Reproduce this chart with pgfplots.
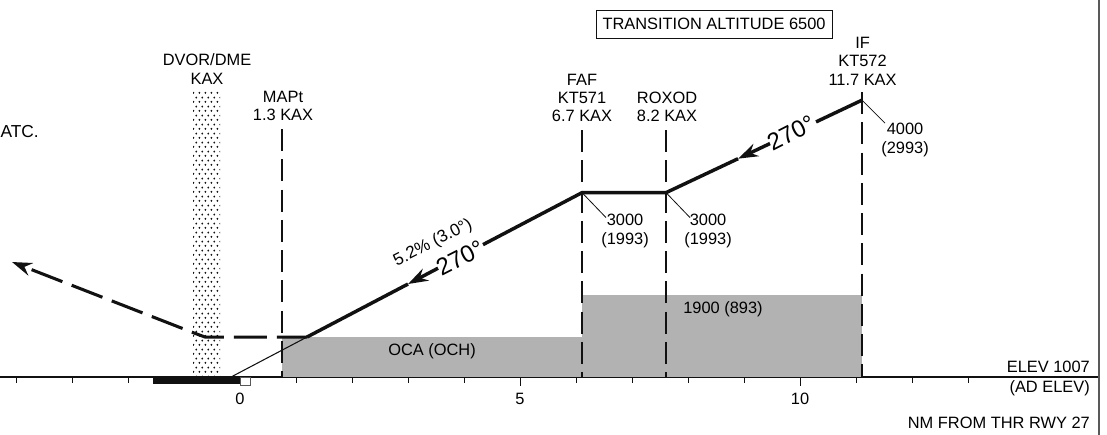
\documentclass[border=0pt]{standalone}
\usepackage{fontspec}
\setmainfont{Liberation Sans}
\usepackage{pgfplots}
\pgfplotsset{compat=1.18}
\usetikzlibrary{arrows.meta,patterns}

% 1 px of the reference = 0.75pt; x = NM from threshold, y = altitude in ft
% place text by reference pixel position
\newcommand{\T}[4][]{\node[inner sep=0pt,align=center,#1] at (axis cs:{(#2-240)/56},{1007+(377-#3)/0.0925}) {#4};}
\definecolor{ocagray}{HTML}{B2B2B2}
\definecolor{ink}{HTML}{111111}

% staggered dots of the DVOR/DME column
\pgfdeclarepatternformonly{stipple}{\pgfpointorigin}{\pgfpoint{4.65pt}{6.6pt}}{\pgfpoint{4.65pt}{6.6pt}}{
  \pgfpathcircle{\pgfpoint{1.15pt}{1.65pt}}{0.8pt}
  \pgfpathcircle{\pgfpoint{3.5pt}{4.95pt}}{0.8pt}
  \pgfusepath{fill}
}

\tikzset{
  main/.style={line width=2.6pt,ink},
  leader/.style={line width=0.6pt,ink},
  fix/.style={line width=1pt,ink,dash pattern=on 16.5pt off 6.2pt},
  head/.style={-{Stealth[length=15pt,width=10pt,inset=5pt]}}
}

\begin{document}
\begin{tikzpicture}[font={\fontsize{12.3}{13.8}\selectfont}]
\useasboundingbox (0,0) rectangle (830.25pt,326.25pt);
\begin{axis}[
    at={(0pt,43.5pt)}, anchor=south west,
    scale only axis, width=823.9pt, height=282.75pt,
    xmin=-4.2857, xmax=15.33, ymin=1007, ymax=5082.7,
    clip=false,
    axis x line=bottom, axis y line=none,
    x axis line style={-,line width=0.8pt,ink},
    xtick={0,5,10}, minor xtick={-4,-3,...,13},
    tick align=outside,
    major tick length=6.75pt, minor tick length=4.5pt,
    tick style={line width=0.7pt,ink},
    xticklabel style={yshift=-1.8pt},
    /pgf/number format/assume math mode=true,
    ticklabel style={font={\fontsize{12.3}{13.8}\selectfont}}
  ]
% OCA blocks
\addplot[draw=none,fill=ocagray] coordinates {(0.75,1007) (6.107,1007) (6.107,1439) (0.75,1439)} --cycle;
\addplot[draw=none,fill=ocagray] coordinates {(6.107,1007) (11.107,1007) (11.107,1893) (6.107,1893)} --cycle;
% DVOR/DME stipple
\addplot[draw=none,pattern=stipple,pattern color=ink] coordinates {(-0.839,1007) (-0.357,1007) (-0.357,4090) (-0.839,4090)} --cycle;
% fix lines
\addplot[fix] coordinates {(0.75,3688) (0.75,1007)};
\addplot[fix] coordinates {(6.107,3677) (6.107,1007)};
\addplot[fix] coordinates {(7.607,3677) (7.607,1007)};
\addplot[fix] coordinates {(11.107,4088) (11.107,1007)};
% extended glide path to the runway
\addplot[leader,line width=0.8pt] coordinates {(-0.16,1007) (1.196,1439)};
% final segment
\addplot[main] coordinates {(1.196,1439) (3.0,2012)};
\addplot[main,head] coordinates {(3.536,2183) (3.0,2012)};
\addplot[main] coordinates {(4.339,2438) (6.107,3000) (7.607,3000) (8.893,3367)};
\addplot[main,head] coordinates {(9.464,3531) (8.893,3367)};
\addplot[main] coordinates {(10.286,3765) (11.107,4000)};
% missed approach
\addplot[main,line width=2.3pt,head,dash pattern=on 24.75pt off 7.5pt,dash phase=2.25pt] coordinates {(1.196,1439) (-0.625,1439) (-0.821,1483) (-4.071,2250)};
% altitude leaders
\addplot[leader] coordinates {(6.107,3000) (6.536,2730)};
\addplot[leader] coordinates {(7.607,3000) (8.036,2730)};
\addplot[leader] coordinates {(11.107,4000) (11.518,3751)};
% runway
\addplot[draw=none,fill=ink] coordinates {(-1.554,1007) (0,1007) (0,931) (-1.554,931)} --cycle;
\addplot[line width=0.5pt,draw=ink!70,fill=white] coordinates {(0,1007) (0.179,1007) (0.179,921) (0,921)} --cycle;
% frame on the right
\addplot[line width=2pt,draw=black!65] coordinates {(15.34,380) (15.34,5082.7)};

\T{207}{69}{DVOR/DME\\KAX}
\T{283}{106}{MAPt\\1.3 KAX}
\T{582}{98}{FAF\\KT571\\6.7 KAX}
\T{667}{107}{ROXOD\\8.2 KAX}
\T{862.5}{61}{IF\\KT572\\11.7 KAX}
\T{625}{231}{3000\\(1993)}
\T{708}{231}{3000\\(1993)}
\T{905}{140}{4000\\(2993)}
\T[anchor=east,font={\fontsize{13}{15}\selectfont}]{39}{132}{ATC.}
\T[rotate=27,font={\fontsize{12.8}{14}\selectfont}]{433}{243}{5.2\% (3.0°)}
\T[rotate=27,font={\fontsize{18}{20}\selectfont}]{460}{258}{270°}
\T[rotate=27,font={\fontsize{18}{20}\selectfont}]{791}{133}{270°}
\T{432}{351}{OCA (OCH)}
\T{723}{309}{1900 (893)}
\T[anchor=east]{1090}{367}{ELEV 1007}
\T[anchor=east]{1090}{388}{(AD ELEV)}
\T[anchor=east]{1090}{423}{NM FROM THR RWY 27}
\T[draw=ink,line width=0.7pt,minimum width=177pt,minimum height=21pt]{714}{24}{TRANSITION ALTITUDE 6500}
\end{axis}
\end{tikzpicture}
\end{document}
